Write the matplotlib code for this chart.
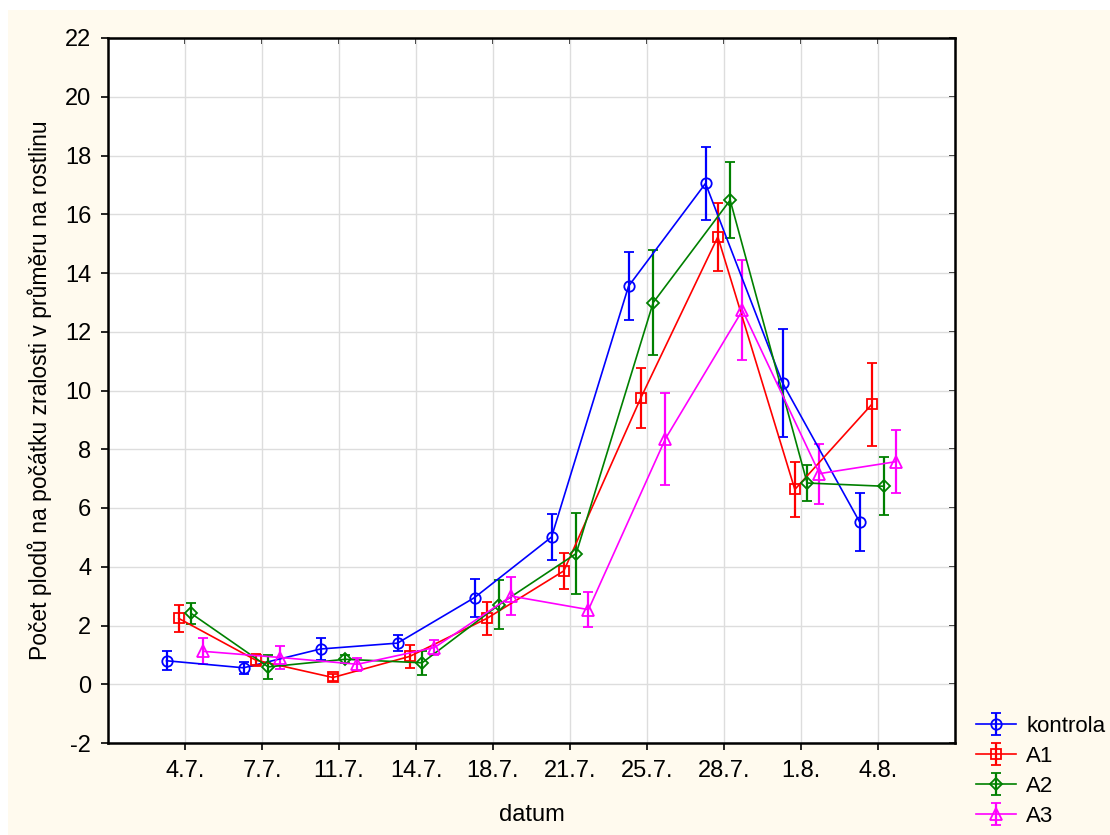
import numpy as np
import matplotlib.pyplot as plt
from matplotlib.patches import Rectangle

# data (means and error half-widths)
dates = ["4.7.", "7.7.", "11.7.", "14.7.", "18.7.", "21.7.", "25.7.", "28.7.", "1.8.", "4.8."]

kontrola = [0.80, 0.56, 1.20, 1.40, 2.95, 5.01, 13.55, 17.05, 10.26, 5.53]
kontrola_err = [0.32, 0.20, 0.38, 0.27, 0.65, 0.78, 1.15, 1.24, 1.85, 0.98]

a1 = [2.24, 0.82, 0.23, 0.95, 2.24, 3.86, 9.75, 15.23, 6.63, 9.53]
a1_err = [0.46, 0.20, 0.13, 0.40, 0.56, 0.61, 1.03, 1.17, 0.93, 1.42]

a2 = [2.41, 0.59, 0.85, 0.73, 2.71, 4.45, 12.99, 16.48, 6.85, 6.74]
a2_err = [0.37, 0.41, 0.14, 0.41, 0.84, 1.38, 1.79, 1.30, 0.60, 0.98]

a3 = [1.12, 0.91, 0.68, 1.25, 3.00, 2.54, 8.36, 12.73, 7.17, 7.58]
a3_err = [0.44, 0.38, 0.23, 0.27, 0.65, 0.60, 1.57, 1.70, 1.02, 1.07]

series = [
    ("kontrola", kontrola, kontrola_err, "#0000ff", "o", 7.5, -0.24),
    ("A1", a1, a1_err, "#ff0000", "s", 7, -0.08),
    ("A2", a2, a2_err, "#008000", "D", 6.5, 0.08),
    ("A3", a3, a3_err, "#ff00ff", "^", 8, 0.24),
]

plt.rcParams['font.family'] = ['Liberation Sans', 'DejaVu Sans']
plt.rcParams['axes.unicode_minus'] = False

fig = plt.figure(figsize=(11.1, 8.35), dpi=100)
fig.patch.set_facecolor("white")
# cream background with a thin white margin top/left
fig.patches.append(Rectangle((8 / 1110, 0), 1, 1 - 10 / 835, transform=fig.transFigure,
                             facecolor="#fffaee", edgecolor="none", zorder=-10))

ax = fig.add_axes([108 / 1110, 1 - 743 / 835, (955 - 108) / 1110, (743 - 38) / 835])
ax.set_facecolor("white")

x = np.arange(len(dates))
for name, vals, err, col, mk, ms, off in series:
    ax.errorbar(x + off, vals, yerr=err, color=col, marker=mk, markersize=ms,
                markerfacecolor="none", markeredgecolor=col, markeredgewidth=1.3,
                linewidth=1.2, elinewidth=1.6, capsize=3.5, capthick=1.4,
                label=name, zorder=3)

ax.set_xlim(-1, 10)
ax.set_ylim(-2, 22)
ax.set_xticks(x)
ax.set_xticklabels(dates)
ax.set_yticks(np.arange(-2, 23, 2))
ax.grid(True, color="#dddddd", linewidth=1)
ax.set_axisbelow(True)

for sp in ax.spines.values():
    sp.set_linewidth(1.8)
    sp.set_color("black")

ax.tick_params(axis="both", labelsize=17, length=5, width=1.2, color="black",
               direction="out", pad=7)

# inward ticks on the top and right edges
top = ax.secondary_xaxis("top")
top.set_xticks(x)
top.tick_params(direction="in", length=4, width=1.2, labeltop=False)
right = ax.secondary_yaxis("right")
right.set_yticks(np.arange(-2, 23, 2))
right.tick_params(direction="in", length=4, width=1.2, labelright=False)

ax.set_xlabel("datum", fontsize=17, labelpad=16)
ax.set_ylabel("Počet plodů na počátku zralosti v průměru na rostlinu", fontsize=16.5, labelpad=9)

ax.legend(loc="upper left", bbox_to_anchor=(976 / 1110, 1 - 716 / 835),
          bbox_transform=fig.transFigure, frameon=False, fontsize=16,
          handlelength=1.8, handletextpad=0.45, labelspacing=0.4,
          borderpad=0, borderaxespad=0)

fig.savefig("out.png", dpi=100, facecolor=fig.get_facecolor())
